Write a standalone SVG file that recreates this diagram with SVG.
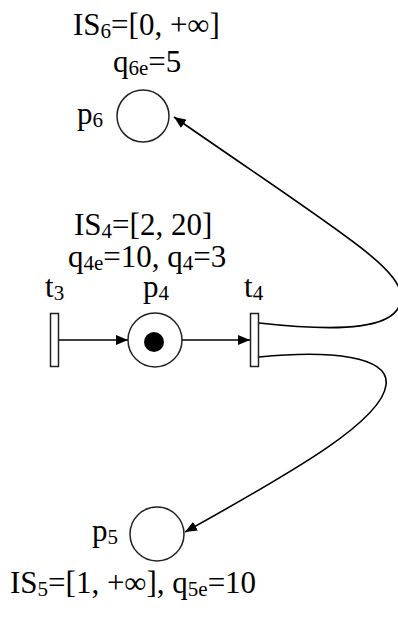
<svg xmlns="http://www.w3.org/2000/svg" width="398" height="619" viewBox="0 0 398 619">
<defs>
<style>
text{font-family:"Liberation Serif","Times New Roman",serif;font-size:31px;fill:#000}
.s{font-size:21px}
.pl{fill:#fff;stroke:#222;stroke-width:1.5}
.tr{fill:#fff;stroke:#222;stroke-width:1.5}
.arc{fill:none;stroke:#000;stroke-width:1.6}
</style>
<marker id="ah" viewBox="0 0 12 10" refX="12" refY="5" markerWidth="12" markerHeight="10" markerUnits="userSpaceOnUse" orient="auto">
<path d="M0,0 L12,5 L0,10 z" fill="#000"/>
</marker>
</defs>
<g id="connectors">
<path class="arc" d="M59,340 L128,340" marker-end="url(#ah)"/>
<path class="arc" d="M182,340 L250,340" marker-end="url(#ah)"/>
<path class="arc" d="M259,323 C340,332 400,330 401,298 C402,268 340,232 174,117" marker-end="url(#ah)"/>
<path class="arc" d="M259,357 C330,350 390,356 386,385 C382,420 300,468 185,532" marker-end="url(#ah)"/>
</g>
<g id="p6">
<circle class="pl" cx="143" cy="116" r="26"/>
<text x="77" y="124">p<tspan class="s" dy="3">6</tspan></text>
<text x="73" y="35">IS<tspan class="s" dy="3">6</tspan><tspan dy="-3">=[0, +∞]</tspan></text>
<text x="113" y="72">q<tspan class="s" dy="3">6e</tspan><tspan dy="-3">=5</tspan></text>
</g>
<g id="p4">
<circle class="pl" cx="155" cy="340" r="27"/>
<circle cx="154" cy="342" r="10" fill="#000"/>
<text x="143" y="297">p<tspan class="s" dy="3">4</tspan></text>
<text x="74" y="235">IS<tspan class="s" dy="3">4</tspan><tspan dy="-3">=[2, 20]</tspan></text>
<text x="68" y="267">q<tspan class="s" dy="3">4e</tspan><tspan dy="-3">=10, q</tspan><tspan class="s" dy="3">4</tspan><tspan dy="-3">=3</tspan></text>
</g>
<g id="t3">
<rect class="tr" x="50.5" y="313.5" width="8" height="53"/>
<text x="45" y="297">t<tspan class="s" dy="3">3</tspan></text>
</g>
<g id="t4">
<rect class="tr" x="250.5" y="313.5" width="8" height="53"/>
<text x="244" y="297">t<tspan class="s" dy="3">4</tspan></text>
</g>
<g id="p5">
<circle class="pl" cx="157" cy="534" r="27"/>
<text x="92" y="541">p<tspan class="s" dy="3">5</tspan></text>
<text x="10" y="593">IS<tspan class="s" dy="3">5</tspan><tspan dy="-3">=[1, +∞], q</tspan><tspan class="s" dy="3">5e</tspan><tspan dy="-3">=10</tspan></text>
</g>
</svg>
